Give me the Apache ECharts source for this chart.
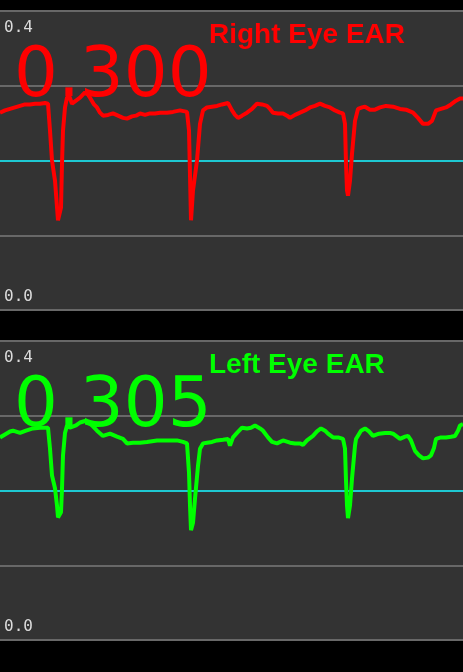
<!DOCTYPE html>
<html>
<head>
<meta charset="utf-8">
<style>
  html, body { margin: 0; padding: 0; background: #000; }
  #chart { width: 463px; height: 672px; }
</style>
<script src="https://cdn.jsdelivr.net/npm/echarts@6/dist/echarts.min.js"></script>
</head>
<body>
<div id="chart"></div>
<script>
// ---- data ----
const panelTitles = ['Right Eye EAR', 'Left Eye EAR'];
const currentEAR = ['0.300', '0.305'];
const yTickLabels = ['0.0', '0.4'];

const tRight = [0,5,10,15,20,25,30,35,40,45,48,50,52,55,58,61,62,63,65,67,69,72,76,80,85,88,90,94,97,100,103,108,113,118,123,127,132,136,140,145,150,155,160,167,173,180,187,189,190,191,193,197,200,203,207,212,217,222,228,230,232,235,238,242,247,252,257,262,267,270,273,278,283,287,290,295,300,305,310,315,320,325,330,335,340,343,345,346,347,348,350,352,355,358,362,365,370,375,380,386,393,400,406,413,418,423,428,432,436,441,446,451,456,460,463];
const earRight = [.264,.267,.269,.271,.273,.275,.275,.276,.276,.277,.276,.240,.200,.173,.120,.137,.196,.240,.271,.284,.287,.276,.280,.284,.291,.288,.284,.275,.271,.264,.260,.261,.263,.260,.257,.256,.259,.260,.263,.261,.263,.263,.264,.264,.265,.267,.265,.240,.180,.120,.160,.200,.249,.267,.271,.272,.273,.275,.277,.272,.267,.261,.257,.260,.264,.269,.276,.275,.273,.269,.264,.263,.263,.260,.257,.261,.264,.267,.271,.273,.276,.273,.271,.267,.264,.263,.249,.196,.160,.153,.173,.209,.253,.269,.271,.272,.268,.268,.271,.273,.272,.269,.268,.264,.257,.249,.249,.253,.267,.269,.271,.275,.280,.283,.283];

const tLeft = [0,5,10,13,20,26,33,40,48,50,52,55,57,58,61,62,63,65,67,70,72,76,80,85,88,92,97,103,110,117,123,127,133,140,147,157,163,170,177,183,187,189,190,191,193,195,198,200,203,207,212,217,223,228,230,233,237,242,247,251,255,260,263,268,272,277,283,290,295,300,303,307,313,317,321,325,328,333,338,343,345,346,347,348,350,352,355,356,361,365,369,373,379,385,390,393,397,400,405,408,411,415,419,423,428,431,434,436,441,446,451,455,458,460,463];
const earLeft = [.271,.275,.279,.280,.277,.280,.283,.284,.284,.256,.220,.203,.180,.164,.171,.203,.247,.277,.287,.284,.283,.287,.291,.293,.291,.287,.280,.273,.276,.272,.269,.263,.264,.264,.265,.267,.267,.267,.267,.265,.263,.224,.180,.147,.157,.189,.233,.256,.263,.264,.265,.267,.268,.269,.260,.271,.277,.284,.283,.284,.287,.283,.280,.271,.265,.263,.267,.264,.263,.263,.261,.267,.273,.279,.283,.280,.276,.271,.271,.269,.256,.213,.180,.163,.180,.216,.260,.269,.280,.283,.279,.273,.276,.277,.277,.276,.272,.269,.272,.273,.267,.253,.247,.243,.244,.247,.257,.269,.271,.271,.272,.273,.280,.287,.289];

// ---- chart ----
const pairs = (t, v) => t.map((x, i) => [x, v[i]]);
const gridTops = [11, 341];
const panelH = 299;
const colors = ['#ff0000', '#00ff00'];

const grids = gridTops.map(top => ({
  left: 0, right: 0, top: top, height: panelH,
  show: true, backgroundColor: '#333333', borderWidth: 0
}));

const xAxes = gridTops.map((_, i) => ({
  type: 'value', gridIndex: i, min: 0, max: 463, show: false
}));

const yAxes = gridTops.map((_, i) => ({
  type: 'value', gridIndex: i, min: 0, max: 0.4, interval: 0.1,
  axisLine: { show: false }, axisTick: { show: false },
  splitLine: { show: true, lineStyle: { width: 2, color: ['#686868', '#686868', '#1ec8d2', '#686868', '#686868'] } },
  axisLabel: {
    inside: true, margin: 4, align: 'left',
    color: '#dcdcdc', fontFamily: 'DejaVu Sans Mono', fontSize: 16,
    formatter: v => v < 1e-9 ? '{b|' + yTickLabels[0] + '}' : (Math.abs(v - 0.4) < 1e-9 ? '{t|' + yTickLabels[1] + '}' : ''),
    rich: {
      t: { padding: [33, 0, 0, 0], color: '#dcdcdc', fontFamily: 'DejaVu Sans Mono', fontSize: 16 },
      b: { padding: [0, 0, 26, 0], color: '#dcdcdc', fontFamily: 'DejaVu Sans Mono', fontSize: 16 }
    }
  },
  z: 1
}));

const titles = [];
gridTops.forEach((top, i) => {
  titles.push({
    text: panelTitles[i], left: 204, top: top + 5,
    textStyle: { color: colors[i], fontFamily: 'Liberation Sans', fontWeight: 'bold', fontSize: 28 }
  });
  titles.push({
    text: currentEAR[i], left: 9, top: top + 28,
    textStyle: { color: colors[i], fontFamily: 'DejaVu Sans', fontWeight: 'normal', fontSize: 69 }
  });
});

const chart = echarts.init(document.getElementById('chart'), null, { renderer: 'canvas' });
chart.setOption({
  backgroundColor: '#000000',
  animation: false,
  title: titles,
  grid: grids,
  xAxis: xAxes,
  yAxis: yAxes,
  series: [
    { type: 'line', xAxisIndex: 0, yAxisIndex: 0, data: pairs(tRight, earRight), showSymbol: false, lineStyle: { color: colors[0], width: 4 }, itemStyle: { color: colors[0] } },
    { type: 'line', xAxisIndex: 1, yAxisIndex: 1, data: pairs(tLeft, earLeft), showSymbol: false, lineStyle: { color: colors[1], width: 4 }, itemStyle: { color: colors[1] } }
  ]
});
</script>
</body>
</html>
